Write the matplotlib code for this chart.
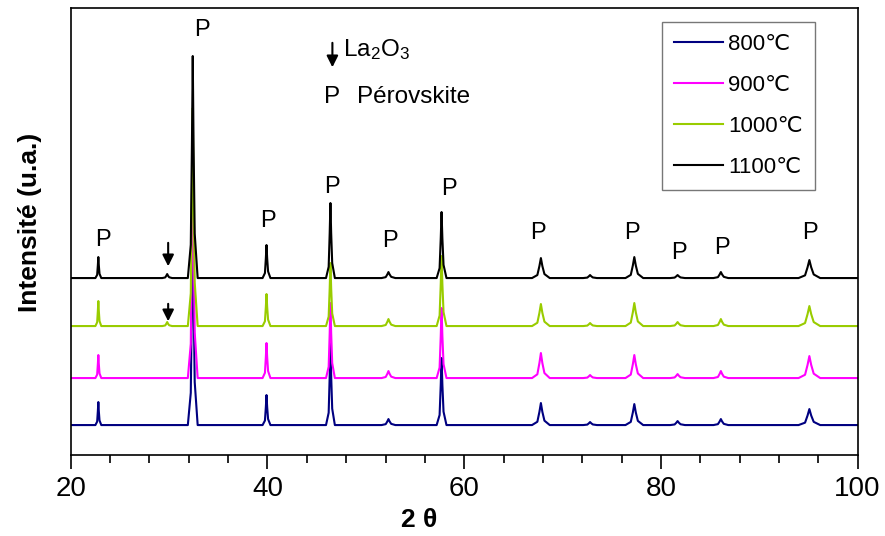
import matplotlib
matplotlib.use("Agg")
import matplotlib.pyplot as plt
from matplotlib.ticker import MultipleLocator

plt.rcParams['font.family'] = ['Liberation Sans', 'DejaVu Sans']
plt.rcParams['mathtext.fontset'] = 'custom'
plt.rcParams['mathtext.rm'] = 'Liberation Sans'
plt.rcParams['mathtext.it'] = 'Liberation Sans'

# positions des pics (2 theta) et largeur a la base
peak_pos = [22.8, 29.8, 32.4, 39.9, 46.4, 52.3, 57.7, 67.8, 72.8, 77.3, 81.7, 86.1, 95.1]
peak_width = [0.6, 1.0, 1.0, 0.8, 0.9, 1.4, 1.0, 1.8, 1.4, 1.8, 1.5, 1.5, 2.2]

# hauteurs des pics (u.a.) pour chaque temperature
h_800 = [23, 0, 215, 30, 82, 6, 67, 22, 3, 21, 4, 6, 16]
h_900 = [23, 0, 228, 35, 75, 7, 70, 25, 3, 23, 4, 7, 22]
h_1000 = [25, 4, 218, 32, 63, 7, 70, 22, 3, 23, 4, 7, 20]
h_1100 = [21, 4, 222, 33, 75, 6, 66, 20, 3, 21, 3, 6, 18]

labels = ['800℃', '900℃', '1000℃', '1100℃']
colors = ['#000080', '#FF00FF', '#99CC00', '#000000']
offsets = [30, 77, 129, 177]


def profile(heights, base):
    xs, ys = [20.0], [base]
    for p, w, h in zip(peak_pos, peak_width, heights):
        xs += [p - w / 2, p - w / 5, p - w / 12, p, p + w / 12, p + w / 5, p + w / 2]
        ys += [base, base + 0.15 * h, base + 0.6 * h, base + h,
               base + 0.6 * h, base + 0.2 * h, base]
    xs.append(100.0)
    ys.append(base)
    return xs, ys


fig = plt.figure(figsize=(8.85, 5.36), dpi=100)
ax = fig.add_axes([0.080, 0.151, 0.889, 0.834])

for hs, lab, c, off in zip([h_800, h_900, h_1000, h_1100], labels, colors, offsets):
    x, y = profile(hs, off)
    ax.plot(x, y, color=c, lw=1.5, label=lab)

ax.set_xlim(20, 100)
ax.set_ylim(0, 447)
ax.xaxis.set_major_locator(MultipleLocator(20))
ax.xaxis.set_minor_locator(MultipleLocator(4))
ax.tick_params(axis='x', which='major', length=10, width=1.2, labelsize=20, pad=5)
ax.tick_params(axis='x', which='minor', length=6, width=1.2)
ax.set_yticks([])
for s in ax.spines.values():
    s.set_linewidth(1.2)

ax.set_xlabel('2 θ', fontsize=19, fontweight='bold')
ax.xaxis.set_label_coords(0.443, -0.118)
ax.set_ylabel('Intensité (u.a.)', fontsize=19, fontweight='bold')
ax.yaxis.set_label_coords(-0.036, 0.52)

# etiquettes P
p_labels = [(23.3, 215), (33.3, 425), (40.0, 234), (46.6, 268), (52.5, 214),
            (58.4, 266), (67.5, 222), (77.1, 222), (81.8, 202), (86.2, 207), (95.2, 222)]
for xp, yp in p_labels:
    ax.text(xp, yp, 'P', fontsize=17, ha='center', va='center')

arrow = dict(arrowstyle='-|>', color='k', lw=1.5, mutation_scale=17)
ax.annotate('', xy=(29.9, 186), xytext=(29.9, 215), arrowprops=arrow)
ax.annotate('', xy=(29.9, 131), xytext=(29.9, 154), arrowprops=arrow)

ax.annotate('', xy=(46.6, 385), xytext=(46.6, 415), arrowprops=arrow)
ax.text(47.7, 405, 'La$_2$O$_3$', fontsize=17.5, ha='left', va='center')
ax.text(46.6, 358, 'P', fontsize=17.5, ha='center', va='center')
ax.text(49.1, 358, 'Pérovskite', fontsize=17.5, ha='left', va='center')

leg = ax.legend(loc='upper left', bbox_to_anchor=(0.751, 0.969), fontsize=16,
                frameon=True, fancybox=False, edgecolor='#555555',
                handlelength=2.2, handletextpad=0.25, labelspacing=0.9,
                borderpad=0.55, borderaxespad=0)
leg.get_frame().set_linewidth(1.0)

fig.savefig('out.png', dpi=100)
